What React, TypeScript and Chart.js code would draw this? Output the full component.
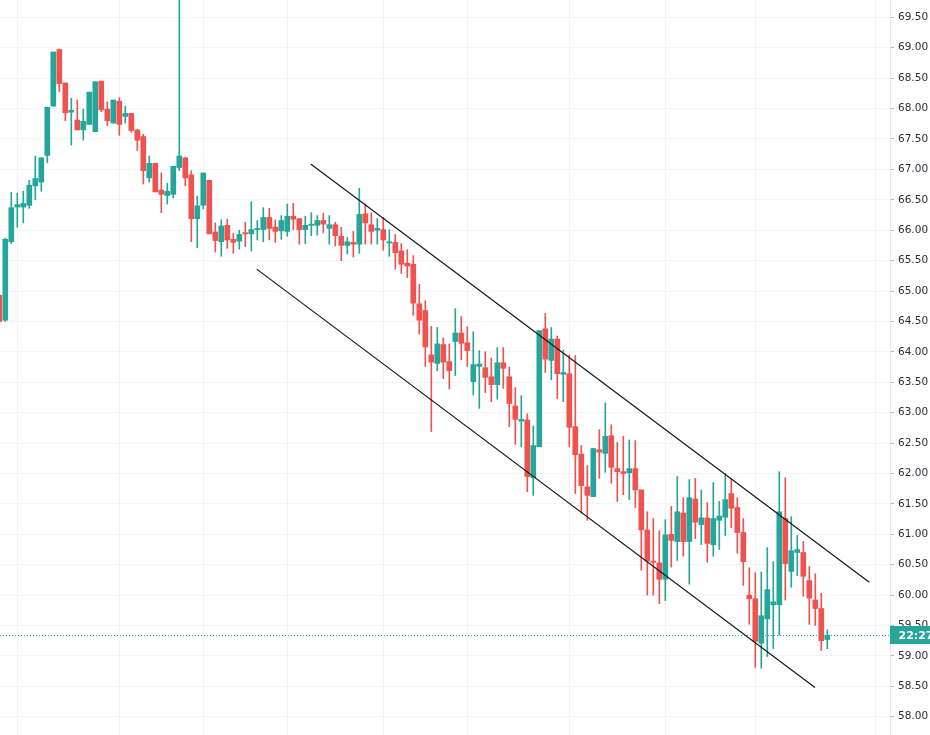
import { useEffect, useRef } from "react";
import { Chart, registerables, type ChartConfiguration, type Plugin } from "chart.js";

Chart.register(...registerables);

// OHLC per candle, index 1..139 (left to right)
const opens = [
  64.93, 64.52, 65.81, 66.38, 66.38, 66.41, 66.73, 66.79, 67.23, 68.04,
  68.97, 68.42, 67.94, 67.81, 67.65, 67.74, 67.62, 68.45, 67.99, 67.76,
  68.12, 67.87, 67.92, 67.65, 67.54, 66.86, 67.1, 66.66, 66.57, 66.59,
  67.03, 67.19, 66.91, 66.19, 66.41, 66.82, 65.97, 65.81, 66.08, 65.85,
  65.82, 65.96, 65.94, 66.01, 66.01, 66.21, 66.05, 65.99, 65.98, 66.23,
  66.19, 66.01, 66.08, 66.08, 66.16, 66.03, 66.09, 65.9, 65.75, 65.8,
  65.77, 66.27, 66.09, 66.0, 66.01, 65.79, 65.8, 65.66, 65.46, 65.44,
  64.79, 64.68, 63.95, 63.81, 64.12, 63.84, 64.17, 64.31, 64.15, 63.51,
  63.76, 63.74, 63.59, 63.46, 63.82, 63.59, 63.11, 62.86, 62.88, 61.93,
  62.44, 64.38, 63.86, 64.21, 63.63, 63.64, 62.77, 62.32, 61.78, 61.62,
  62.39, 62.33, 62.62, 62.08, 62.03, 62.01, 62.08, 61.73, 61.07, 60.56,
  60.53, 60.26, 61.0, 60.88, 61.35, 60.88, 61.58, 61.16, 61.27, 60.83,
  61.23, 61.28, 61.67, 61.44, 61.03, 60.0, 59.94, 59.21, 59.61, 59.84,
  59.84, 61.26, 60.39, 60.7, 60.7, 60.24, 59.92, 59.78, 59.27,
];
const highs = [
  64.95, 65.87, 66.62, 66.61, 66.64, 66.82, 67.22, 67.19, 68.02, 68.93,
  68.98, 68.42, 68.17, 68.14, 67.99, 68.27, 68.44, 68.45, 68.11, 68.14,
  68.18, 68.04, 67.92, 67.66, 67.58, 67.22, 67.1, 66.94, 66.77, 67.05,
  70.3, 67.2, 66.98, 66.56, 66.94, 66.82, 66.12, 66.17, 66.18, 65.95,
  66.0, 66.13, 66.47, 66.16, 66.37, 66.36, 66.17, 66.24, 66.43, 66.44,
  66.19, 66.23, 66.29, 66.24, 66.28, 66.24, 66.13, 66.05, 65.88, 65.98,
  66.69, 66.43, 66.29, 66.19, 66.21, 66.01, 65.93, 65.78, 65.68, 65.58,
  65.11, 64.84, 64.42, 64.4, 64.23, 64.13, 64.71, 64.58, 64.41, 64.33,
  64.02, 64.0, 63.9, 64.07, 64.07, 63.75, 63.41, 63.28, 62.98, 62.78,
  64.35, 64.63, 64.4, 64.26, 64.03, 63.95, 63.94, 62.46, 62.13, 62.41,
  62.72, 63.16, 62.8, 62.51, 62.61, 62.55, 62.54, 61.73, 61.37, 61.26,
  61.06, 61.24, 61.46, 61.95, 61.6, 61.9, 61.92, 61.73, 61.52, 61.85,
  61.54, 62.0, 61.91, 61.6, 61.26, 60.45, 60.37, 60.38, 60.78, 60.55,
  62.03, 61.93, 61.29, 60.98, 60.88, 60.47, 60.35, 60.03, 59.43,
];
const lows = [
  64.45, 64.5, 65.78, 66.05, 66.12, 66.36, 66.5, 66.64, 67.11, 68.04,
  68.28, 67.8, 67.4, 67.65, 67.48, 67.74, 67.62, 67.95, 67.72, 67.76,
  67.56, 67.76, 67.61, 67.31, 66.76, 66.79, 66.63, 66.29, 66.43, 66.53,
  66.98, 66.73, 65.81, 65.71, 66.35, 65.94, 65.64, 65.57, 65.7, 65.62,
  65.69, 65.73, 65.66, 65.84, 65.81, 65.84, 65.8, 65.85, 65.9, 66.01,
  65.77, 65.78, 65.91, 65.92, 65.96, 65.77, 65.74, 65.5, 65.61, 65.56,
  65.62, 65.77, 65.77, 65.77, 65.67, 65.57, 65.36, 65.29, 65.22, 64.6,
  64.29, 63.76, 62.69, 63.69, 63.56, 63.39, 63.61, 63.87, 63.76, 63.29,
  63.07, 63.33, 63.18, 63.22, 63.4, 62.77, 62.48, 62.44, 61.7, 61.64,
  62.44, 63.66, 63.54, 63.23, 63.18, 62.44, 61.67, 61.35, 61.23, 61.62,
  61.92, 62.02, 61.84, 61.54, 61.65, 61.57, 61.44, 60.41, 60.0, 60.0,
  59.86, 59.91, 60.46, 60.57, 60.64, 60.18, 60.93, 60.83, 60.54, 60.64,
  60.75, 60.98, 61.11, 60.69, 60.16, 59.52, 58.81, 58.8, 58.99, 59.12,
  59.34, 59.92, 60.13, 60.32, 59.98, 59.52, 59.5, 59.09, 59.12,
];
const closes = [
  64.5, 65.85, 66.37, 66.42, 66.44, 66.74, 66.85, 67.19, 68.02, 68.93,
  68.41, 67.93, 67.97, 67.65, 67.79, 68.27, 68.44, 67.98, 67.8, 68.14,
  67.74, 67.92, 67.64, 67.48, 66.98, 67.1, 66.63, 66.59, 66.64, 67.05,
  67.22, 66.86, 66.19, 66.4, 66.94, 65.94, 65.83, 66.07, 65.84, 65.8,
  65.93, 65.94, 66.01, 66.03, 66.21, 66.03, 65.98, 66.16, 66.23, 66.18,
  66.01, 66.08, 66.1, 66.16, 66.1, 66.09, 65.91, 65.75, 65.81, 65.77,
  66.26, 66.12, 65.98, 66.03, 65.84, 65.81, 65.63, 65.44, 65.41, 64.8,
  64.52, 64.08, 63.83, 64.13, 63.83, 63.69, 64.31, 64.14, 64.02, 63.79,
  63.8, 63.58, 63.46, 63.82, 63.73, 63.15, 62.89, 62.89, 61.95, 62.46,
  64.35, 63.88, 64.21, 63.64, 63.66, 62.76, 62.31, 61.8, 61.64, 62.41,
  62.35, 62.61, 62.1, 62.03, 62.0, 62.08, 61.73, 61.07, 60.56, 60.54,
  60.26, 60.99, 60.9, 61.37, 60.88, 61.6, 61.2, 61.27, 60.85, 61.26,
  61.3, 61.57, 61.43, 61.03, 60.55, 59.94, 59.24, 59.66, 60.09, 59.89,
  61.37, 60.52, 60.73, 60.75, 60.31, 59.95, 59.78, 59.25, 59.34,
];

// channel lines: [candle index, price] endpoints
const upperChannel = [
  { x: 52.9, y: 67.09 },
  { x: 146.0, y: 60.21 },
];
const lowerChannel = [
  { x: 43.9, y: 65.36 },
  { x: 136.95, y: 58.48 },
];

const priceTicks = [
  58.0, 58.5, 59.0, 59.5, 60.0, 60.5, 61.0, 61.5, 62.0, 62.5, 63.0, 63.5,
  64.0, 64.5, 65.0, 65.5, 66.0, 66.5, 67.0, 67.5, 68.0, 68.5, 69.0, 69.5,
];
// candle indices where the session (vertical) grid lines fall
const sessionLines = [4, 21, 35, 49, 65, 79, 96, 112, 127, 147];

const LAST_PRICE = 59.34;
const COUNTDOWN = "22:27:41";

const UP = "#26a69a";
const DOWN = "#ef5350";
const GRID = "#f0f3fa";
const TEXT = "#2a2e39";

const priceLinePlugin: Plugin<"bar"> = {
  id: "priceLine",
  afterDatasetsDraw(chart) {
    const { ctx, chartArea } = chart;
    const y = Math.round(chart.scales.y.getPixelForValue(LAST_PRICE)) + 0.5;
    ctx.save();
    ctx.strokeStyle = UP;
    ctx.lineWidth = 1;
    ctx.setLineDash([1, 2]);
    ctx.beginPath();
    ctx.moveTo(chartArea.left, y);
    ctx.lineTo(chartArea.right, y);
    ctx.stroke();
    ctx.restore();
  },
  afterDraw(chart) {
    const { ctx, chartArea, width } = chart;
    const y = chart.scales.y.getPixelForValue(LAST_PRICE);
    ctx.save();
    ctx.fillStyle = UP;
    ctx.fillRect(chartArea.right, Math.round(y - 9), width - chartArea.right, 18);
    ctx.fillStyle = "#ffffff";
    ctx.font = "bold 11px 'DejaVu Sans'";
    ctx.textBaseline = "middle";
    ctx.fillText(COUNTDOWN, chartArea.right + 8.5, y + 0.5);
    ctx.restore();
  },
};

export default function App() {
  const canvasRef = useRef<HTMLCanvasElement>(null);

  useEffect(() => {
    if (!canvasRef.current) return;
    const idx = opens.map((_, i) => i + 1);
    const colors = opens.map((o, i) => (closes[i] >= o ? UP : DOWN));

    const config: ChartConfiguration<"bar"> = {
      type: "bar",
      data: {
        datasets: [
          {
            label: "wicks",
            data: idx.map((x, i) => ({ x, y: [lows[i], highs[i]] })) as any,
            backgroundColor: colors,
            barThickness: 1,
            grouped: false,
            borderWidth: 0,
            order: 3,
          },
          {
            label: "bodies",
            data: idx.map((x, i) => ({ x, y: [opens[i], closes[i]] })) as any,
            backgroundColor: colors,
            barThickness: 5,
            minBarLength: 1,
            grouped: false,
            borderWidth: 0,
            order: 2,
          },
          {
            type: "line" as any,
            label: "upper",
            data: upperChannel as any,
            borderColor: "#131722",
            borderWidth: 1.2,
            pointRadius: 0,
            order: 1,
          },
          {
            type: "line" as any,
            label: "lower",
            data: lowerChannel as any,
            borderColor: "#131722",
            borderWidth: 1.2,
            pointRadius: 0,
            order: 1,
          },
        ],
      },
      options: {
        responsive: true,
        maintainAspectRatio: false,
        animation: false,
        layout: { padding: 0 },
        plugins: { legend: { display: false }, tooltip: { enabled: false } },
        scales: {
          x: {
            type: "linear",
            min: 1.117,
            max: 149.45,
            offset: false,
            afterBuildTicks: (s) => {
              s.ticks = sessionLines.map((value) => ({ value }));
            },
            afterFit: (s) => {
              s.height = 0;
              s.paddingLeft = 0;
              s.paddingRight = 0;
            },
            grid: { color: GRID, drawTicks: false, offset: false },
            border: { display: false },
            ticks: { display: false },
          },
          y: {
            type: "linear",
            position: "right",
            min: 57.7,
            max: 69.785,
            afterBuildTicks: (s) => {
              s.ticks = priceTicks.map((value) => ({ value }));
            },
            afterFit: (s) => {
              s.width = 40;
              s.paddingTop = 0;
              s.paddingBottom = 0;
            },
            grid: { color: GRID, tickLength: 4, tickColor: "#b2b5be" },
            border: { display: true, color: "#e0e3eb" },
            ticks: {
              color: TEXT,
              padding: 4,
              font: { family: "'DejaVu Sans'", size: 10.5 },
              callback: (v) => Number(v).toFixed(2),
            },
          },
        },
      },
      plugins: [priceLinePlugin],
    };

    const chart = new Chart(canvasRef.current, config);
    return () => chart.destroy();
  }, []);

  return (
    <div style={{ position: "fixed", left: 0, top: 0, width: 930, height: 735, background: "#fff" }}>
      <canvas ref={canvasRef} />
    </div>
  );
}
